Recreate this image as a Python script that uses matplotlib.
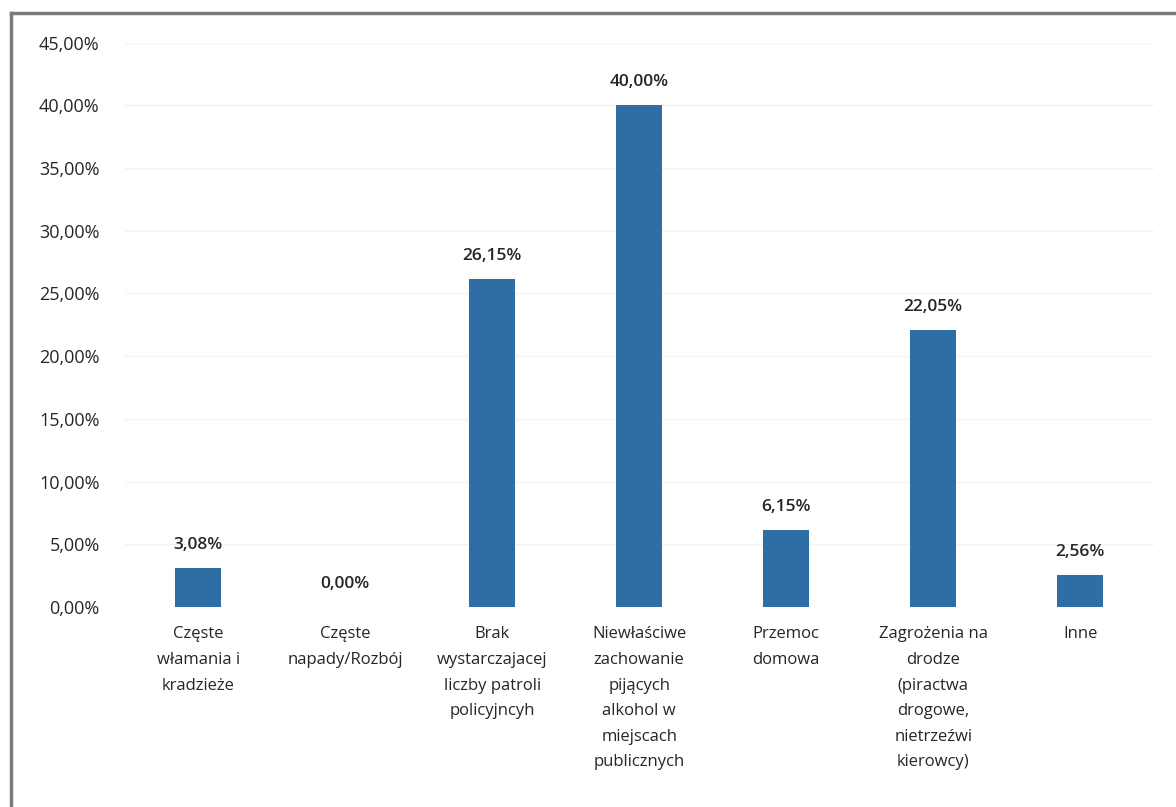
#!/usr/bin/env python3

import matplotlib
matplotlib.use("Agg")
import matplotlib.pyplot as plt
from matplotlib.ticker import FuncFormatter, MultipleLocator
from matplotlib.lines import Line2D

categories = [
    "Częste\nwłamania i\nkradzieże",
    "Częste\nnapady/Rozbój",
    "Brak\nwystarczajacej\nliczby patroli\npolicyjncyh",
    "Niewłaściwe\nzachowanie\npijących\nalkohol w\nmiejscach\npublicznych",
    "Przemoc\ndomowa",
    "Zagrożenia na\ndrodze\n(piractwa\ndrogowe,\nnietrzeźwi\nkierowcy)",
    "Inne",
]
values = [0.0308, 0.0, 0.2615, 0.40, 0.0615, 0.2205, 0.0256]

bar_color = "#2F6DA5"
text_color = "#262626"


def pl_percent(v, pos=None):
    return f"{v * 100:.2f}%".replace(".", ",")


plt.rcParams["font.family"] = ["Open Sans", "DejaVu Sans"]

fig = plt.figure(figsize=(11.76, 8.07), dpi=100)
ax = fig.add_axes([0.106, 0.248, 0.875, 0.699])

x = range(len(categories))
bars = ax.bar(x, values, width=0.31, color=bar_color, zorder=3)

ax.set_ylim(0, 0.45)
ax.set_xlim(-0.5, len(categories) - 0.5)
ax.yaxis.set_major_locator(MultipleLocator(0.05))
ax.yaxis.set_major_formatter(FuncFormatter(pl_percent))
ax.grid(axis="y", color="#f3f3f3", linewidth=1, zorder=0)

ax.set_xticks(list(x))
ax.set_xticklabels(categories, fontsize=12, color=text_color, linespacing=1.8, va="top")
ax.tick_params(axis="x", length=0, pad=14)
ax.tick_params(axis="y", length=0, pad=18, labelsize=13, labelcolor=text_color)

for side in ["top", "right", "left", "bottom"]:
    ax.spines[side].set_visible(False)

# Etykiety danych nad słupkami
for bar, v in zip(bars, values):
    ax.text(bar.get_x() + bar.get_width() / 2,
            bar.get_height() + 0.012,
            pl_percent(v),
            ha="center", va="bottom",
            fontsize=12.5, fontweight="semibold", color=text_color)

# ramka z lewej i u góry (jak na skanie)
fig.add_artist(Line2D([0.0094, 0.0094], [0.0, 0.984], color="#7a7a7a", linewidth=2.5))
fig.add_artist(Line2D([0.0094, 1.0], [0.984, 0.984], color="#7a7a7a", linewidth=2.5))

fig.savefig("out.png", dpi=100)
